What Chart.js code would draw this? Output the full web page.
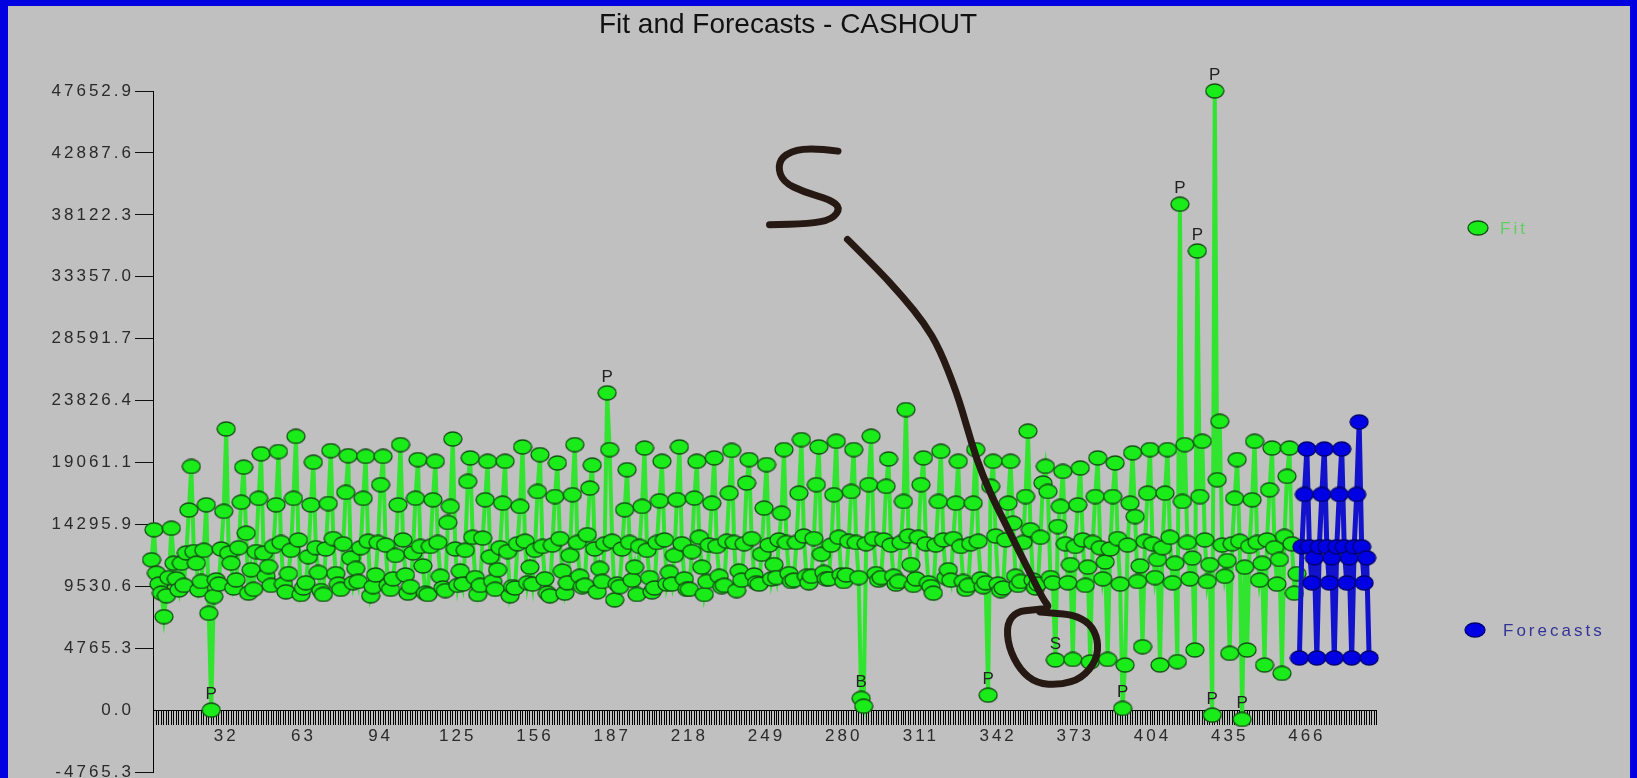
<!DOCTYPE html>
<html>
<head>
<meta charset="utf-8">
<script src="https://cdn.jsdelivr.net/npm/chart.js@4.4.1/dist/chart.umd.min.js"></script>
<style>
  html, body { margin: 0; padding: 0; overflow: hidden; width: 1637px; height: 778px; background: #0000e0; }
  #frame { position: absolute; left: 8px; top: 6px; width: 1622px; height: 784px; background: #c0c0c0; }
  canvas { display: block; }
</style>
</head>
<body>
<div id="frame"><canvas id="cashout" width="1622" height="784"></canvas></div>
<script>
// Daily CASHOUT: fitted history followed by the forecast horizon.
const fitStartDay = 1;
const forecastStartDay = 463;

// Fitted values, one row per week (7 days).
const fitValues = [
  9250, 11570, 13880, 10540, 9700, 9000, 7190,
  8800, 10200, 14000, 11310, 10100, 9250, 11310,
  9600, 12100, 15400, 18750, 12200, 11310, 9250,
  9900, 12300, 15800, 7450, 0, 8740, 10020,
  9700, 12400, 15300, 21640, 12080, 11310, 9400,
  10020, 12500, 16000, 18700, 13620, 9000, 10800,
  9300, 12200, 16300, 19730, 12080, 10300, 11050,
  9600, 12600, 15800, 19900, 12900, 9700, 9100,
  10500, 12300, 16300, 21070, 13100, 8900, 9400,
  9800, 11800, 15800, 19080, 12500, 10600, 9200,
  8900, 12400, 15900, 19970, 13200, 10500, 9700,
  9300, 12800, 16760, 19580, 11700, 9800, 10900,
  9900, 12500, 16300, 19530, 13000, 8800, 9500,
  10400, 12900, 17350, 19530, 12700, 9600, 9300,
  10100, 11900, 15800, 20430, 13100, 10400, 9000,
  9500, 12100, 16310, 19280, 12600, 11100, 9000,
  8900, 12600, 16190, 19150, 12900, 10300, 9400,
  9200, 14440, 15680, 20870, 12400, 9600, 10700,
  9700, 12300, 17600, 19410, 13300, 10200, 8900,
  9600, 13240, 16190, 19150, 11800, 9900, 9300,
  10800, 12500, 15930, 19150, 12200, 8800, 9500,
  9400, 12800, 15680, 20260, 13000, 9800, 11000,
  9700, 12300, 16830, 19660, 12600, 10100, 9000,
  8800, 12700, 16440, 19020, 13200, 10700, 9000,
  9800, 11900, 16580, 20430, 12900, 10300, 9500,
  9600, 13500, 17090, 18860, 12400, 9100, 10900,
  9900, 12800, 24420, 20050, 13000, 8480, 9700,
  9500, 12400, 15420, 18500, 12900, 10000, 11000,
  8900, 12600, 15680, 20170, 12300, 10200, 9100,
  9400, 12900, 16110, 19150, 13100, 9700, 10600,
  9700, 11900, 16200, 20260, 12800, 10100, 9300,
  9300, 12200, 16320, 19150, 13300, 11000, 8900,
  9900, 12700, 15930, 19410, 12600, 10300, 9500,
  9600, 13000, 16700, 19990, 12900, 9200, 10700,
  10000, 12800, 17480, 19280, 13200, 10400, 9800,
  9700, 12000, 15550, 18890, 12700, 10100, 11200,
  10200, 13100, 15160, 20050, 12900, 10500, 9900,
  10000, 12900, 16700, 20820, 13400, 10300, 9800,
  10300, 13200, 17350, 20260, 12000, 10600, 10100,
  10100, 12700, 16580, 20690, 13300, 10400, 9900,
  10400, 13000, 16830, 20050, 12900, 10200, 900,
  300, 12800, 17350, 21080, 13200, 10500, 10000,
  10200, 13100, 17220, 19330, 12700, 10300, 9700,
  9900, 12900, 16060, 23130, 13400, 11200, 9600,
  10100, 13300, 17350, 19410, 12800, 9800, 9500,
  9000, 12700, 16060, 19920, 13100, 10200, 10800,
  10000, 13200, 15930, 19150, 12600, 9900, 9300,
  9600, 12800, 15930, 20050, 13000, 10100, 9500,
  9800, 1150, 17220, 19150, 13400, 9700, 9200,
  9400, 13100, 15930, 19150, 14390, 10300, 9600,
  9900, 12900, 16440, 21470, 13880, 10000, 9400,
  9700, 13300, 17480, 18760, 16830, 10200, 9800,
  3860, 14130, 15680, 18370, 12800, 9800, 11200,
  3900, 12600, 15800, 18630, 13100, 9600, 11000,
  3700, 12900, 16440, 19410, 12500, 10100, 11400,
  3900, 12400, 16440, 19020, 13200, 9700, 130,
  3470, 12700, 15930, 19800, 14900, 9900, 11100,
  4880, 13000, 16700, 20050, 12800, 10200, 11600,
  3470, 12500, 16700, 20050, 13300, 9800, 11300,
  3730, 38939, 16060, 20430, 12900, 10100, 11700,
  4630, 35340, 16440, 20690, 13100, 9900, 11200,
  -385, 47652.9, 17730, 22230, 12700, 10300, 11500,
  4370, 12800, 16310, 19280, 13000, -717, 11000,
  4630, 12600, 16190, 20690, 12900, 10000, 11300,
  3470, 13100, 16960, 20170, 12500, 9700, 11600,
  2830, 13370, 17990, 20170, 12800, 9000, 10500
];

// Forecast horizon, one row per week.
const forecastValues = [
  4010, 12570, 16600, 20100, 12570, 9790, 11720,
  4010, 12570, 16600, 20100, 12570, 9790, 11720,
  4010, 12570, 16600, 20100, 12570, 9790, 11720,
  4010, 12570, 16600, 22180, 12570, 9790, 11720,
  4010
];

const yTickValues = [-4765.3, 0, 4765.3, 9530.6, 14295.9, 19061.1, 23826.4,
                     28591.7, 33357.0, 38122.3, 42887.6, 47652.9];
const xTickLabels = [32, 63, 94, 125, 156, 187, 218, 249, 280, 311, 342, 373, 404, 435, 466];

// Days flagged by the model: P = pulse, B = break, S = shift.
const flaggedDays = [26, 185, 287, 338, 365, 392, 415, 422, 428, 429, 440];
const flagCodes   = ['P', 'P', 'B', 'P', 'S', 'P', 'P', 'P', 'P', 'P', 'P'];

// Hand-drawn pen note, in chart units [day, value].
const penLetter = [[277.7, 43026], [266.1, 43335], [256.4, 42834], [253.5, 41870], [255.6, 40659],
  [264.1, 39865], [274.5, 39295], [278.7, 38646], [275.3, 37760], [266.1, 37436], [250.2, 37359]];
const penArrow = [[281.5, 36233], [293.4, 33974], [303.8, 31807], [312.3, 29794], [318.5, 27782],
  [325.4, 24420], [329.4, 21845], [333.4, 19277], [338.8, 16710], [344.1, 14650], [349.5, 12592],
  [354.8, 10541], [360.2, 8482], [362.9, 7842], [356.1, 7711], [349.5, 7580], [345.5, 6685],
  [346.1, 4881], [350.8, 3084], [357.5, 2059], [366.9, 1928], [375.6, 2444], [381.6, 3855],
  [382.2, 5398], [378.9, 6685], [372.2, 7325], [364.2, 7456], [358.8, 7557]];

const FONT = '"Liberation Sans", Arial, sans-serif';

function makeMarker(w, h, fill, stroke) {
  const c = document.createElement('canvas');
  c.width = w; c.height = h;
  const g = c.getContext('2d');
  g.beginPath();
  g.ellipse(w / 2, h / 2, w / 2 - 1, h / 2 - 1, 0, 0, Math.PI * 2);
  g.fillStyle = fill; g.fill();
  g.lineWidth = 1.3; g.strokeStyle = stroke; g.stroke();
  return c;
}
const fitMarker = makeMarker(20, 16, 'rgb(26,236,26)', 'rgb(18,78,18)');
const fcMarker = makeMarker(20, 16, 'rgb(0,0,228)', 'rgb(0,0,110)');
const fitLegendMarker = makeMarker(22, 16, 'rgb(26,236,26)', 'rgb(18,78,18)');
const fcLegendMarker = makeMarker(22, 16, 'rgb(0,0,228)', 'rgb(0,0,110)');

const fitPoints = fitValues.map((v, i) => ({ x: fitStartDay + i, y: v }));
const forecastPoints = forecastValues.map((v, i) => ({ x: forecastStartDay + i, y: v }));

const spacedText = {
  id: 'spacedText',
  beforeDraw(chart) { chart.ctx.letterSpacing = '3px'; }
};

const flagLabels = {
  id: 'flagLabels',
  afterDatasetsDraw(chart) {
    const ctx = chart.ctx;
    const meta = chart.getDatasetMeta(0);
    ctx.save();
    ctx.letterSpacing = '0px';
    ctx.font = '17px ' + FONT;
    ctx.fillStyle = '#222';
    ctx.textAlign = 'center';
    ctx.textBaseline = 'alphabetic';
    flaggedDays.forEach((day, k) => {
      const el = meta.data[day - fitStartDay];
      if (el) ctx.fillText(flagCodes[k], el.x, el.y - 11);
    });
    ctx.restore();
  }
};

function strokePen(chart, pts) {
  const ctx = chart.ctx, xs = chart.scales.x, ys = chart.scales.y;
  const p = pts.map(([d, v]) => [xs.getPixelForValue(d), ys.getPixelForValue(v)]);
  ctx.beginPath();
  ctx.moveTo(p[0][0], p[0][1]);
  for (let i = 1; i < p.length - 1; i++) {
    const mx = (p[i][0] + p[i + 1][0]) / 2, my = (p[i][1] + p[i + 1][1]) / 2;
    ctx.quadraticCurveTo(p[i][0], p[i][1], mx, my);
  }
  ctx.lineTo(p[p.length - 1][0], p[p.length - 1][1]);
  ctx.stroke();
}

const penNote = {
  id: 'penNote',
  afterDatasetsDraw(chart) {
    const ctx = chart.ctx;
    ctx.save();
    ctx.strokeStyle = 'rgb(38,24,18)';
    ctx.lineWidth = 7;
    ctx.lineCap = 'round';
    ctx.lineJoin = 'round';
    strokePen(chart, penLetter);
    strokePen(chart, penArrow);
    ctx.restore();
  }
};

const frameText = {
  id: 'frameText',
  afterDraw(chart) {
    const ctx = chart.ctx;
    ctx.save();
    ctx.letterSpacing = '0px';
    ctx.font = '28px ' + FONT;
    ctx.fillStyle = '#111';
    ctx.textAlign = 'center';
    ctx.textBaseline = 'alphabetic';
    ctx.fillText('Fit and Forecasts - CASHOUT', 780, 27);

    ctx.letterSpacing = '3px';
    ctx.font = '17px ' + FONT;
    ctx.textAlign = 'left';
    ctx.textBaseline = 'middle';
    ctx.drawImage(fitLegendMarker, 1470 - 11, 222 - 8);
    ctx.fillStyle = 'rgb(96,206,96)';
    ctx.fillText('Fit', 1492, 223);
    ctx.drawImage(fcLegendMarker, 1467 - 11, 624 - 8);
    ctx.fillStyle = 'rgb(52,52,150)';
    ctx.fillText('Forecasts', 1495, 625);
    ctx.restore();
  }
};

new Chart(document.getElementById('cashout'), {
  type: 'line',
  data: {
    datasets: [
      {
        label: 'Fit',
        data: fitPoints,
        borderColor: 'rgb(48,228,48)',
        borderWidth: 4,
        pointStyle: fitMarker,
        pointRadius: 8,
        tension: 0,
        clip: false,
        order: 2
      },
      {
        label: 'Forecasts',
        data: forecastPoints,
        borderColor: 'rgb(18,18,205)',
        borderWidth: 5,
        pointStyle: fcMarker,
        pointRadius: 8,
        tension: 0,
        clip: false,
        order: 1
      }
    ]
  },
  options: {
    responsive: false,
    devicePixelRatio: 1,
    animation: false,
    events: [],
    layout: { padding: { left: 0, top: 85, right: 253.4, bottom: 18 } },
    plugins: {
      legend: { display: false },
      title: { display: false },
      tooltip: { enabled: false }
    },
    scales: {
      x: {
        type: 'linear',
        position: { y: 0 },
        min: 2.6,
        max: 494,
        afterFit(scale) { scale.height = 0; },
        grid: { drawOnChartArea: false, drawTicks: true, tickLength: 14, tickColor: '#000', tickWidth: 1 },
        border: { display: true, color: '#000', width: 1 },
        ticks: {
          stepSize: 1,
          autoSkip: false,
          maxRotation: 0,
          padding: 2,
          color: '#2a2a2a',
          font: { family: FONT, size: 17 },
          callback(v) {
            const d = Math.round(v);
            return xTickLabels.includes(d) ? String(d) : '';
          }
        }
      },
      y: {
        type: 'linear',
        min: yTickValues[0],
        max: yTickValues[yTickValues.length - 1],
        afterFit(scale) { scale.width = 145; },
        afterBuildTicks(scale) { scale.ticks = yTickValues.map(v => ({ value: v })); },
        grid: {
          drawOnChartArea: false, drawTicks: true, tickLength: 18, tickWidth: 1,
          tickColor: c => (c.tick && c.tick.value === 0 ? 'rgba(0,0,0,0)' : '#111')
        },
        border: { display: true, color: '#000', width: 1 },
        ticks: {
          padding: 1,
          color: '#2a2a2a',
          font: { family: FONT, size: 17 },
          callback(v) { return Number(v).toFixed(1); }
        }
      }
    }
  },
  plugins: [spacedText, penNote, flagLabels, frameText]
});
</script>
</body>
</html>
